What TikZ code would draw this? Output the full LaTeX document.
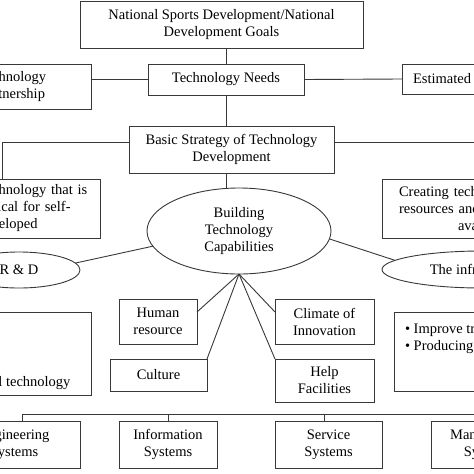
\documentclass[tikz,border=0pt]{standalone}
\usepackage{fontspec}
\setmainfont{Liberation Serif}
\usetikzlibrary{shapes.geometric,calc}
\begin{document}
\begin{tikzpicture}[x=1pt,y=-1pt,
  font=\fontsize{14.5}{17}\selectfont,
  every node/.style={inner sep=0pt, outer sep=0pt},
  box/.style={draw=black!78, line width=0.9pt, fill=white, align=center},
  oval/.style={draw=black!78, line width=0.9pt, ellipse, fill=white, align=center},
  conn/.style={draw=black!78, line width=0.9pt}]
\useasboundingbox (0,0) rectangle (474,474);
% top
\node[box, minimum width=283pt, minimum height=47pt] (top) at (221.5,24.5) {National Sports Development/National\\Development Goals};
\node[box, minimum width=158pt, minimum height=45pt] (tp) at (12,86.5) {Technology\\Partnership};
\node[box, minimum width=156pt, minimum height=31pt] (tn) at (226,79.5) {Technology Needs};
\node[box, minimum width=158pt, minimum height=30pt, text width=136pt, align=left] (est) at (481,79) {Estimated};
\node[box, minimum width=205pt, minimum height=47pt] (bs) at (231.5,149.5) {Basic Strategy of Technology\\Development};
\node[box, minimum width=130pt, minimum height=59pt, text width=114pt, align=left] (crit) at (35,208.5) {Technology that is\\critical for self-\\developed};
\node[box, minimum width=208pt, minimum height=59pt, text width=174pt, align=left] (create) at (486,208.5) {Creating technology\\resources and\\\hspace*{59pt}available};
\node[oval, minimum width=184pt, minimum height=86pt] (build) at (239,231) {Building\\Technology\\Capabilities};
\node[oval, minimum width=122pt, minimum height=36pt] (rd) at (19,270) {R \& D};
\node[oval, minimum width=200pt, minimum height=37pt] (infra) at (482,269.5) {The infrastructure};
% middle
\node[box, minimum width=131pt, minimum height=83pt] (low) at (25.5,353.5) {};
\node[anchor=base west] (lowtxt) at (-30.6,386) {Local technology};
\node[box, minimum width=78pt, minimum height=45pt] (hr) at (158,321.5) {Human\\resource};
\node[box, minimum width=97pt, minimum height=32pt] (cult) at (158.5,375) {Culture};
\node[box, minimum width=99pt, minimum height=45pt] (clim) at (324.5,321.5) {Climate of\\Innovation};
\node[box, minimum width=99pt, minimum height=43pt] (help) at (324.5,380.5) {Help\\Facilities};
\node[box, minimum width=166pt, minimum height=79pt] (bul) at (477,351.5) {};
\node[anchor=north west, align=left] (bultxt) at (405,324) {• Improve training\\• Producing};
% bottom
\node[box, minimum width=132pt, minimum height=47pt] (eng) at (14,444.5) {Engineering\\Systems};
\node[box, minimum width=98pt, minimum height=47pt] (info) at (168,444.5) {Information\\Systems};
\node[box, minimum width=107pt, minimum height=47pt] (serv) at (328.5,444.5) {Service\\Systems};
\node[box, minimum width=114pt, minimum height=47pt] (mgmt) at (488,444.5) {Management\\Systems};
% connectors
\draw[conn] (tn.north |- top.south) -- (tn.north);
\draw[conn] (tn.south) -- (tn.south |- bs.north);
\draw[conn] (bs.south -| tn.south) -- (build.north -| tn.south);
\draw[conn] (tn.west) -- (tn.west -| tp.east);
\draw[conn] (tn.east) -- (est.west);
\draw[conn] ([yshift=7.5pt]bs.west) -| ([xshift=-33pt]crit.north);
\draw[conn] ([yshift=7.5pt]bs.east) -| (create.north);
\draw[conn] (rd.7) -- (build.190);
\draw[conn] (build.-5) -- (infra.174);
\draw[conn] (build.south) -- ([yshift=9.5pt]hr.east);
\draw[conn] (build.south) -- (cult.north east);
\draw[conn] (build.south) -- ([yshift=9.5pt]clim.west);
\draw[conn] (build.south) -- (help.north west);
\draw[conn] ([xshift=8pt]eng.north) -- ++(0,-7) -| (mgmt.north);
\draw[conn] (info.north) -- ++(0,-7);
\draw[conn] ([xshift=-4.5pt]serv.north) -- ++(0,-7);
\end{tikzpicture}
\end{document}
